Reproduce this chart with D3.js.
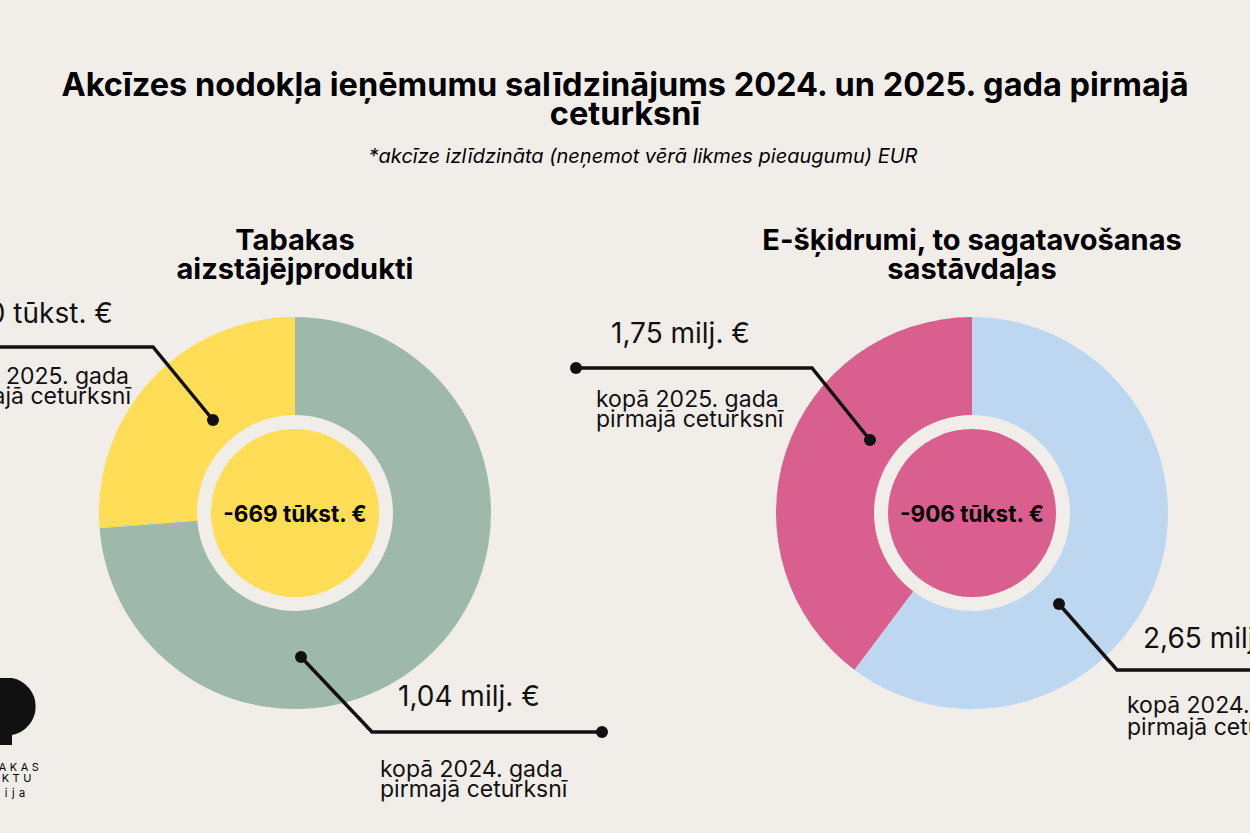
<!DOCTYPE html><html><head><meta charset="utf-8"><script src="https://cdn.jsdelivr.net/npm/d3@7"></script>
<style>body{margin:0;background:#f1eeea}svg{display:block;font-family:Inter,"Noto Sans",sans-serif}</style></head><body>
<svg id="c" width="1250" height="833"></svg>
<script>
const charts = ["Tabakas\naizstājējprodukti","E-šķidrumi, to sagatavošanas\nsastāvdaļas"];
const values2025 = [370, 1750]; // tūkst. €
const values2024 = [1040, 2650];
const diffLabels = ["-669 tūkst. €","-906 tūkst. €"];
const labels2025 = ["370 tūkst. €","1,75 milj. €"];
const labels2024 = ["1,04 milj. €","2,65 milj. €"];
const col2025 = ["#ffdd57","#d95f8e"];
const col2024 = ["#9eb9ab","#bdd7f0"];

const svg = d3.select("#c");
svg.append("rect").attr("width",1250).attr("height",833).attr("fill","#f1eeea");
svg.append("text").attr("x",625).attr("y",96).attr("text-anchor","middle").attr("font-size",32.5).attr("font-weight",700).text("Akcīzes nodokļa ieņēmumu salīdzinājums 2024. un 2025. gada pirmajā");
svg.append("text").attr("x",625).attr("y",125).attr("text-anchor","middle").attr("font-size",32.5).attr("font-weight",700).text("ceturksnī");
svg.append("text").attr("x",643).attr("y",163).attr("text-anchor","middle").attr("font-size",20).attr("font-style","italic").text("*akcīze izlīdzināta (neņemot vērā likmes pieaugumu) EUR");

const cx = [295, 972], cy = 513, R = 196, r = 98, rc = 84;
const arc = d3.arc().innerRadius(r).outerRadius(R);
const pie = d3.pie().sort(null).value(d=>d.v).startAngle(0).endAngle(-2*Math.PI);
charts.forEach((t,i)=>{
  const g = svg.append("g").attr("transform",`translate(${cx[i]},${cy})`);
  const data = [{v:values2025[i],c:col2025[i]},{v:values2024[i],c:col2024[i]}];
  g.selectAll("path").data(pie(data)).join("path").attr("d",arc).attr("fill",d=>d.data.c);
  g.append("circle").attr("r",rc).attr("fill",col2025[i]);
  g.append("text").attr("y",9).attr("text-anchor","middle").attr("font-size",22.5).attr("font-weight",700).text(diffLabels[i]);
  t.split("\n").forEach((s,k)=>svg.append("text").attr("x",cx[i]).attr("y",250+k*29).attr("text-anchor","middle").attr("font-size",29).attr("font-weight",700).text(s));
});
function leader(pts){
  svg.append("path").attr("d",d3.line()(pts)).attr("fill","none").attr("stroke","#111").attr("stroke-width",3.5);
}
function dot(x,y){svg.append("circle").attr("cx",x).attr("cy",y).attr("r",6).attr("fill","#111");}
function txt(x,y,s,size,anchor){svg.append("text").attr("x",x).attr("y",y).attr("font-size",size).attr("text-anchor",anchor||"start").attr("fill","#111").text(s);}
// left
leader([[-10,347],[153,347],[213,420]]); dot(213,420);
txt(113,323,labels2025[0],28,"end"); txt(129,384,"kopā 2025. gada",23,"end"); txt(131,404,"pirmajā ceturksnī",23,"end");
leader([[301,657],[372,732],[602,732]]); dot(301,657); dot(602,732);
txt(398,706,labels2024[0],28); txt(380,777,"kopā 2024. gada",23); txt(380,797,"pirmajā ceturksnī",23);
// right
leader([[576,368],[812,368],[870,440]]); dot(576,368); dot(870,440);
txt(611,343,labels2025[1],28); txt(596,407,"kopā 2025. gada",23); txt(596,427,"pirmajā ceturksnī",23);
leader([[1059,604],[1117,670],[1260,670]]); dot(1059,604);
txt(1143,648,labels2024[1],28); txt(1127,713,"kopā 2024. gada",23); txt(1127,735,"pirmajā ceturksnī",23);
// logo
svg.append("path").attr("d","M-5,678 H12 A29,29 0 0 1 12,735 H12 V745 H-5 Z").attr("fill","#111");
svg.append("text").attr("x",-12).attr("y",771).attr("font-size",11).attr("letter-spacing",3.5).text("BAKAS");
svg.append("text").attr("x",-10).attr("y",782).attr("font-size",11).attr("letter-spacing",3.5).text("UKTU");
svg.append("text").attr("x",-6).attr("y",797).attr("font-size",11).attr("letter-spacing",4.5).text("cija");
</script></body></html>
